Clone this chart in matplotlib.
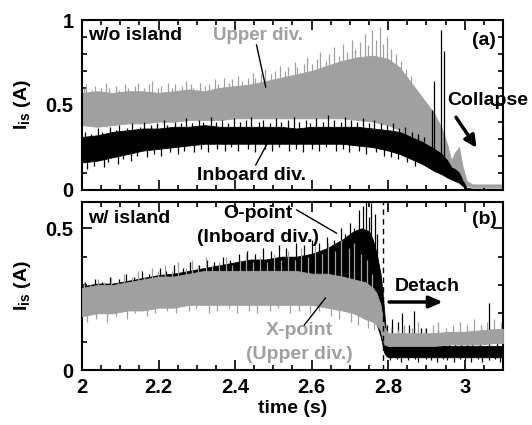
import matplotlib
matplotlib.use("Agg")
import matplotlib.pyplot as plt
from matplotlib.ticker import MultipleLocator

plt.rcParams["font.family"] = ["Liberation Sans", "DejaVu Sans"]
plt.rcParams["font.weight"] = "bold"
plt.rcParams["mathtext.fontset"] = "custom"
plt.rcParams["mathtext.rm"] = "Liberation Sans:bold"
plt.rcParams["mathtext.it"] = "Liberation Sans:bold"
plt.rcParams["mathtext.bf"] = "Liberation Sans:bold"

GRAY = "#a0a0a0"

# ---- panel (a): w/o island, envelopes + spikes ----
t_a_upper = [2.00, 2.04, 2.08, 2.12, 2.16, 2.20, 2.24, 2.28, 2.32, 2.36, 2.40, 2.44,
             2.48, 2.52, 2.56, 2.60, 2.64, 2.68, 2.72, 2.76, 2.80, 2.83, 2.86, 2.89,
             2.92, 2.94, 2.955, 2.965, 2.975, 2.985, 2.995, 3.005, 3.02, 3.06, 3.10]
a_upper_hi = [0.57, 0.58, 0.57, 0.58, 0.58, 0.57, 0.58, 0.59, 0.58, 0.60, 0.61, 0.62,
              0.64, 0.66, 0.68, 0.70, 0.73, 0.76, 0.78, 0.79, 0.77, 0.72, 0.63, 0.54,
              0.45, 0.36, 0.26, 0.17, 0.22, 0.25, 0.13, 0.05, 0.03, 0.03, 0.03]
a_upper_lo = [0.38, 0.37, 0.38, 0.39, 0.39, 0.40, 0.40, 0.41, 0.41, 0.41, 0.42, 0.42,
              0.42, 0.42, 0.42, 0.42, 0.42, 0.42, 0.41, 0.40, 0.38, 0.35, 0.30, 0.24,
              0.18, 0.14, 0.10, 0.08, 0.09, 0.10, 0.06, 0.02, 0.015, 0.015, 0.015]
a_upper_up_t = [2.004, 2.011, 2.026, 2.034, 2.049, 2.063, 2.071, 2.088, 2.097, 2.112,
                2.121, 2.139, 2.146, 2.161, 2.176, 2.184, 2.199, 2.207, 2.224, 2.236,
                2.244, 2.261, 2.272, 2.285, 2.291, 2.309, 2.322, 2.331, 2.347, 2.356,
                2.371, 2.384, 2.392, 2.408, 2.417, 2.433, 2.446, 2.452, 2.469, 2.478,
                2.494, 2.503, 2.517, 2.531, 2.538, 2.556, 2.562, 2.579, 2.588, 2.601,
                2.613, 2.622, 2.637, 2.646, 2.659, 2.671, 2.683, 2.692, 2.706, 2.714,
                2.727, 2.739, 2.748, 2.757, 2.769, 2.778, 2.786, 2.797, 2.808, 2.821,
                2.834, 2.846, 2.859]
a_upper_up_v = [0.60, 0.62, 0.59, 0.61, 0.60, 0.63, 0.60, 0.61, 0.59, 0.62,
                0.60, 0.61, 0.63, 0.60, 0.62, 0.64, 0.60, 0.61, 0.63, 0.60,
                0.62, 0.61, 0.64, 0.62, 0.60, 0.63, 0.61, 0.62, 0.65, 0.62,
                0.66, 0.63, 0.65, 0.67, 0.64, 0.66, 0.69, 0.66, 0.68, 0.71,
                0.68, 0.70, 0.73, 0.70, 0.72, 0.75, 0.72, 0.74, 0.78, 0.74,
                0.77, 0.81, 0.76, 0.80, 0.84, 0.79, 0.86, 0.81, 0.88, 0.83,
                0.87, 0.92, 0.85, 0.94, 0.88, 0.96, 0.86, 0.90, 0.83, 0.80,
                0.76, 0.71, 0.67]

t_a_inboard = [2.00, 2.04, 2.08, 2.12, 2.16, 2.20, 2.24, 2.28, 2.32, 2.36, 2.40, 2.44,
               2.48, 2.52, 2.56, 2.60, 2.64, 2.68, 2.72, 2.76, 2.80, 2.83, 2.86, 2.89,
               2.92, 2.94, 2.955, 2.965, 2.975, 2.985, 2.995, 3.005, 3.02, 3.10]
a_inboard_hi = [0.31, 0.32, 0.34, 0.35, 0.36, 0.36, 0.37, 0.37, 0.38, 0.37, 0.37, 0.37,
                0.37, 0.37, 0.36, 0.37, 0.37, 0.37, 0.37, 0.36, 0.35, 0.34, 0.31, 0.28,
                0.24, 0.21, 0.17, 0.13, 0.12, 0.10, 0.05, 0.01, 0.005, 0.005]
a_inboard_lo = [0.16, 0.17, 0.19, 0.21, 0.23, 0.24, 0.25, 0.26, 0.27, 0.27, 0.27, 0.27,
                0.27, 0.27, 0.27, 0.27, 0.27, 0.27, 0.26, 0.25, 0.23, 0.21, 0.18, 0.15,
                0.11, 0.09, 0.07, 0.06, 0.05, 0.04, 0.02, 0.0, 0.0, 0.0]
a_inboard_up_t = [2.008, 2.023, 2.041, 2.052, 2.074, 2.089, 2.098, 2.117, 2.131, 2.152,
                  2.163, 2.181, 2.197, 2.214, 2.222, 2.243, 2.259, 2.271, 2.288, 2.306,
                  2.317, 2.336, 2.349, 2.367, 2.381, 2.396, 2.414, 2.428, 2.441, 2.463,
                  2.472, 2.491, 2.508, 2.519, 2.537, 2.553, 2.566, 2.584, 2.597, 2.611,
                  2.629, 2.642, 2.658, 2.676, 2.688, 2.703, 2.719, 2.733, 2.751, 2.764,
                  2.782, 2.797, 2.812, 2.829, 2.843, 2.861, 2.878, 2.893]
a_inboard_up_v = [0.34, 0.33, 0.36, 0.34, 0.37, 0.35, 0.38, 0.36, 0.39, 0.37,
                  0.40, 0.38, 0.39, 0.41, 0.38, 0.40, 0.39, 0.42, 0.39, 0.41,
                  0.40, 0.43, 0.40, 0.41, 0.39, 0.42, 0.40, 0.41, 0.43, 0.40,
                  0.41, 0.39, 0.42, 0.40, 0.41, 0.43, 0.40, 0.41, 0.39, 0.42,
                  0.40, 0.44, 0.41, 0.40, 0.43, 0.41, 0.40, 0.42, 0.39, 0.41,
                  0.39, 0.38, 0.39, 0.36, 0.37, 0.34, 0.33, 0.31]
a_inboard_dn_t = [2.013, 2.031, 2.058, 2.069, 2.093, 2.108, 2.127, 2.144, 2.171, 2.188,
                  2.206, 2.229, 2.252, 2.266, 2.293, 2.311, 2.328, 2.354, 2.373, 2.389,
                  2.407, 2.433, 2.452, 2.478, 2.497, 2.514, 2.541, 2.559, 2.578, 2.602,
                  2.619, 2.637, 2.664, 2.681, 2.698, 2.724, 2.742, 2.769, 2.788, 2.807,
                  2.826, 2.848, 2.871]
a_inboard_dn_v = [0.12, 0.14, 0.13, 0.16, 0.15, 0.18, 0.17, 0.20, 0.19, 0.21,
                  0.20, 0.22, 0.21, 0.23, 0.22, 0.24, 0.22, 0.24, 0.23, 0.25,
                  0.23, 0.24, 0.22, 0.24, 0.23, 0.25, 0.23, 0.24, 0.22, 0.24,
                  0.23, 0.25, 0.23, 0.24, 0.22, 0.23, 0.21, 0.22, 0.20, 0.19,
                  0.18, 0.16, 0.14]
a_inboard_big_t = [2.915, 2.921, 2.939, 2.947]
a_inboard_big_v = [0.47, 0.64, 0.94, 0.82]

# ---- panel (b): w/ island ----
t_b_xpt = [2.00, 2.04, 2.08, 2.12, 2.16, 2.20, 2.24, 2.28, 2.32, 2.36, 2.40, 2.44,
           2.48, 2.52, 2.56, 2.60, 2.64, 2.68, 2.71, 2.74, 2.76, 2.77, 2.78, 2.785,
           2.79, 2.80, 2.84, 2.88, 2.92, 2.96, 3.00, 3.04, 3.08, 3.10]
b_xpt_hi = [0.29, 0.30, 0.30, 0.31, 0.32, 0.33, 0.33, 0.34, 0.35, 0.35, 0.35, 0.35,
            0.35, 0.35, 0.35, 0.34, 0.34, 0.33, 0.32, 0.31, 0.29, 0.27, 0.23, 0.19,
            0.15, 0.13, 0.13, 0.13, 0.13, 0.135, 0.135, 0.14, 0.145, 0.145]
b_xpt_lo = [0.19, 0.20, 0.20, 0.21, 0.21, 0.22, 0.22, 0.23, 0.23, 0.23, 0.23, 0.23,
            0.23, 0.23, 0.23, 0.23, 0.22, 0.21, 0.20, 0.18, 0.17, 0.16, 0.14, 0.11,
            0.09, 0.085, 0.085, 0.085, 0.085, 0.09, 0.09, 0.09, 0.095, 0.095]
b_xpt_up_t = [2.006, 2.021, 2.043, 2.058, 2.077, 2.094, 2.109, 2.131, 2.146, 2.163,
              2.184, 2.199, 2.217, 2.236, 2.251, 2.272, 2.287, 2.304, 2.323, 2.341,
              2.358, 2.377, 2.393, 2.412, 2.429, 2.447, 2.466, 2.483, 2.502, 2.519,
              2.537, 2.556, 2.572, 2.591, 2.608, 2.627, 2.643, 2.662, 2.678, 2.697,
              2.711, 2.728, 2.744, 2.757]
b_xpt_up_v = [0.31, 0.30, 0.32, 0.31, 0.33, 0.31, 0.34, 0.33, 0.35, 0.33,
              0.36, 0.35, 0.37, 0.35, 0.38, 0.36, 0.39, 0.37, 0.40, 0.37,
              0.38, 0.40, 0.37, 0.39, 0.41, 0.38, 0.40, 0.38, 0.41, 0.39,
              0.42, 0.39, 0.43, 0.40, 0.44, 0.41, 0.45, 0.42, 0.46, 0.43,
              0.45, 0.41, 0.39, 0.34]
b_xpt_dn_t = [2.012, 2.037, 2.066, 2.088, 2.117, 2.139, 2.171, 2.192, 2.223, 2.246,
              2.279, 2.298, 2.331, 2.352, 2.384, 2.406, 2.437, 2.458, 2.491, 2.512,
              2.544, 2.566, 2.597, 2.618, 2.651, 2.672, 2.703, 2.722, 2.748, 2.764]
b_xpt_dn_v = [0.17, 0.18, 0.17, 0.19, 0.18, 0.20, 0.19, 0.20, 0.21, 0.20,
              0.21, 0.22, 0.20, 0.21, 0.22, 0.20, 0.21, 0.20, 0.21, 0.22,
              0.20, 0.21, 0.20, 0.21, 0.19, 0.18, 0.17, 0.16, 0.15, 0.14]
b_xpt_late_t = [2.807, 2.826, 2.841, 2.862, 2.879, 2.897, 2.916, 2.931, 2.952, 2.969,
                2.987, 3.006, 3.024, 3.043, 3.058, 3.077, 3.094]
b_xpt_late_v = [0.15, 0.14, 0.16, 0.15, 0.17, 0.15, 0.16, 0.17, 0.15, 0.16,
                0.17, 0.16, 0.18, 0.16, 0.17, 0.18, 0.17]

t_b_opt = [2.00, 2.04, 2.08, 2.12, 2.16, 2.20, 2.24, 2.28, 2.32, 2.36, 2.40, 2.44,
           2.48, 2.52, 2.56, 2.60, 2.64, 2.68, 2.71, 2.73, 2.75, 2.76, 2.77, 2.78,
           2.785, 2.79, 2.795, 2.80, 2.84, 2.88, 2.92, 2.96, 3.00, 3.04, 3.08, 3.10]
b_opt_hi = [0.295, 0.305, 0.305, 0.315, 0.325, 0.335, 0.34, 0.35, 0.36, 0.37, 0.38, 0.39,
            0.39, 0.40, 0.40, 0.41, 0.43, 0.46, 0.49, 0.50, 0.49, 0.46, 0.41, 0.34,
            0.28, 0.20, 0.12, 0.085, 0.085, 0.085, 0.085, 0.085, 0.085, 0.085, 0.085, 0.085]
b_opt_lo = [0.20, 0.21, 0.21, 0.22, 0.22, 0.23, 0.23, 0.24, 0.24, 0.25, 0.25, 0.25,
            0.25, 0.25, 0.25, 0.26, 0.26, 0.26, 0.25, 0.24, 0.22, 0.20, 0.16, 0.12,
            0.09, 0.06, 0.05, 0.045, 0.045, 0.045, 0.045, 0.045, 0.045, 0.045, 0.045, 0.045]
b_opt_up_t = [2.009, 2.033, 2.051, 2.072, 2.098, 2.114, 2.137, 2.158, 2.176, 2.203,
              2.219, 2.241, 2.263, 2.282, 2.307, 2.326, 2.344, 2.369, 2.388, 2.409,
              2.431, 2.452, 2.474, 2.493, 2.516, 2.534, 2.558, 2.579, 2.601, 2.619,
              2.641, 2.658, 2.676, 2.688, 2.699, 2.712, 2.725, 2.735, 2.743, 2.750,
              2.756, 2.765, 2.772]
b_opt_up_v = [0.31, 0.32, 0.31, 0.33, 0.32, 0.34, 0.33, 0.35, 0.34, 0.36,
              0.35, 0.37, 0.36, 0.38, 0.37, 0.39, 0.38, 0.40, 0.39, 0.41,
              0.42, 0.41, 0.43, 0.42, 0.44, 0.43, 0.45, 0.44, 0.46, 0.45,
              0.47, 0.46, 0.50, 0.48, 0.52, 0.50, 0.565, 0.58, 0.60, 0.54,
              0.59, 0.55, 0.48]
b_opt_late_t = [2.798, 2.810, 2.825, 2.837, 2.848, 2.855, 2.868, 2.878, 2.885, 2.900,
                2.915, 2.930, 2.945, 2.960, 2.975, 2.990, 3.005, 3.020, 3.040, 3.064, 3.085]
b_opt_late_v = [0.16, 0.18, 0.17, 0.20, 0.12, 0.16, 0.21, 0.13, 0.15, 0.15,
                0.12, 0.14, 0.11, 0.13, 0.11, 0.13, 0.11, 0.12, 0.11, 0.235, 0.11]
b_opt_late_dn_t = [2.805, 2.823, 2.834, 2.852, 2.869, 2.877, 2.898, 2.911, 2.927, 2.943,
                   2.954, 2.973, 2.988, 3.002, 3.017, 3.034, 3.046, 3.063, 3.078, 3.092]
b_opt_late_dn_v = [0.035, 0.04, 0.03, 0.035, 0.04, 0.03, 0.04, 0.035, 0.03, 0.04,
                   0.035, 0.03, 0.04, 0.035, 0.03, 0.04, 0.03, 0.035, 0.04, 0.03]

detach_t = 2.787


def band(ax, t, lo, hi, color, z):
    ax.fill_between(t, lo, hi, color=color, lw=0.6, edgecolor=color, zorder=z)


def spikes(ax, t, v, base, color, z):
    ax.vlines(t, base, v, color=color, lw=0.9, zorder=z)


def style(ax):
    ax.set_xlim(2, 3.1)
    ax.xaxis.set_major_locator(MultipleLocator(0.2))
    ax.xaxis.set_minor_locator(MultipleLocator(0.05))
    ax.yaxis.set_minor_locator(MultipleLocator(0.1))
    ax.tick_params(which="both", direction="in", top=True, right=True, width=1.2,
                   labelsize=14.5, pad=6)
    ax.tick_params(which="major", length=7)
    ax.tick_params(which="minor", length=3.5)
    for s in ax.spines.values():
        s.set_linewidth(1.5)


fig = plt.figure(figsize=(5.32, 4.25), dpi=100)
ax1 = fig.add_axes([0.1541, 0.5541, 0.7914, 0.3988])
ax2 = fig.add_axes([0.1541, 0.1294, 0.7914, 0.3960])

# panel (a): gray under black
band(ax1, t_a_upper, a_upper_lo, a_upper_hi, GRAY, 2)
spikes(ax1, a_upper_up_t, a_upper_up_v, 0.5, GRAY, 2)
band(ax1, t_a_inboard, a_inboard_lo, a_inboard_hi, "black", 3)
spikes(ax1, a_inboard_up_t, a_inboard_up_v, 0.28, "black", 3)
spikes(ax1, a_inboard_dn_t, a_inboard_dn_v, 0.28, "black", 3)
spikes(ax1, a_inboard_big_t, a_inboard_big_v, 0.15, "black", 3)
style(ax1)
ax1.set_ylim(0, 1)
ax1.set_yticks([0, 0.5, 1])
ax1.set_yticklabels(["0", "0.5", "1"])
ax1.tick_params(labelbottom=False)
ax1.set_ylabel(r"I$_{\rm is}$ (A)", fontsize=14, fontweight="bold", labelpad=9)

ax1.text(2.016, 0.91, "w/o island", fontsize=14, ha="left", va="center")
ax1.text(2.459, 0.91, "Upper div.", fontsize=13.5, color=GRAY, ha="center", va="center")
ax1.plot([2.456, 2.480], [0.853, 0.605], color="black", lw=1.0, zorder=5)
ax1.text(2.443, 0.085, "Inboard div.", fontsize=14, ha="center", va="center", zorder=6)
ax1.plot([2.454, 2.485], [0.145, 0.275], color="black", lw=1.0, zorder=5)
ax1.text(3.051, 0.88, "(a)", fontsize=14, ha="center", va="center")
ax1.text(2.955, 0.528, "Collapse", fontsize=14, ha="left", va="center", zorder=6)
ax1.annotate("", xy=(3.035, 0.233), xytext=(2.973, 0.44),
             arrowprops=dict(arrowstyle="-|>,head_length=0.7,head_width=0.35",
                             color="black", lw=2.5), zorder=6)

# panel (b): black under gray
band(ax2, t_b_opt, b_opt_lo, b_opt_hi, "black", 2)
spikes(ax2, b_opt_up_t, b_opt_up_v, 0.28, "black", 2)
spikes(ax2, b_opt_late_t, b_opt_late_v, 0.06, "black", 2)
spikes(ax2, b_opt_late_dn_t, b_opt_late_dn_v, 0.06, "black", 2)
band(ax2, t_b_xpt, b_xpt_lo, b_xpt_hi, GRAY, 3)
spikes(ax2, b_xpt_up_t, b_xpt_up_v, 0.27, GRAY, 3)
spikes(ax2, b_xpt_dn_t, b_xpt_dn_v, 0.26, GRAY, 3)
spikes(ax2, b_xpt_late_t, b_xpt_late_v, 0.11, GRAY, 3)
ax2.axvline(detach_t, color="black", lw=1.0, ls=(0, (4, 3)), zorder=4)
style(ax2)
ax2.set_ylim(0, 0.594)
ax2.set_yticks([0, 0.5])
ax2.set_yticklabels(["0", "0.5"])
ax2.set_xticks([2, 2.2, 2.4, 2.6, 2.8, 3])
ax2.set_xticklabels(["2", "2.2", "2.4", "2.6", "2.8", "3"])
ax2.set_ylabel(r"I$_{\rm is}$ (A)", fontsize=14, fontweight="bold", labelpad=9)
ax2.set_xlabel("time (s)", fontsize=14, fontweight="bold", labelpad=2)

ax2.text(2.016, 0.536, "w/ island", fontsize=14, ha="left", va="center")
ax2.text(2.459, 0.554, "O-point", fontsize=14, ha="center", va="center", zorder=6)
ax2.text(2.459, 0.469, "(Inboard div.)", fontsize=14, ha="center", va="center", zorder=6)
ax2.plot([2.561, 2.665], [0.565, 0.483], color="black", lw=1.0, zorder=5)
ax2.text(2.568, 0.141, "X-point", fontsize=14, color=GRAY, ha="center", va="center")
ax2.text(2.568, 0.053, "(Upper div.)", fontsize=14, color=GRAY, ha="center", va="center")
ax2.plot([2.581, 2.636], [0.159, 0.254], color="black", lw=1.0, zorder=5)
ax2.text(3.051, 0.53, "(b)", fontsize=14, ha="center", va="center")
ax2.text(2.902, 0.296, "Detach", fontsize=14, ha="center", va="center")
ax2.annotate("", xy=(2.95, 0.24), xytext=(2.795, 0.24),
             arrowprops=dict(arrowstyle="-|>,head_length=0.8,head_width=0.35",
                             color="black", lw=2.5), zorder=6)

fig.savefig("out.png", dpi=100)
